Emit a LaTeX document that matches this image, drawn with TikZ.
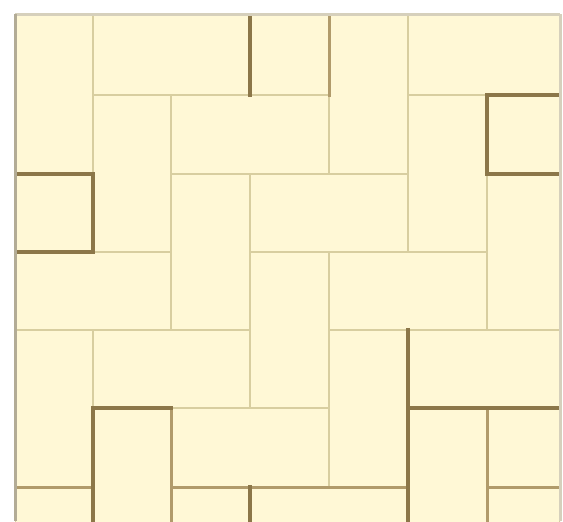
\documentclass[tikz,border=0pt]{standalone}
\definecolor{tilefill}{HTML}{FFF8D6}
\definecolor{lightline}{HTML}{D8CEA0}
\definecolor{darkline}{HTML}{8C7749}
\definecolor{midline}{HTML}{B19B6B}
\definecolor{frameleft}{HTML}{B3AC96}
\definecolor{frametop}{HTML}{D6D0BC}
\begin{document}
\begin{tikzpicture}[x=0.02cm,y=-0.02cm,
  tile/.style={fill=tilefill,draw=lightline,line width=0.055cm},
  darkedge/.style={draw=darkline,line width=0.07cm,line cap=rect},
  midedge/.style={draw=midline,line width=0.06cm,line cap=rect},
  frameedge/.style={line width=0.06cm}]
\fill[white] (0,0) rectangle (563,521);
\useasboundingbox (0,0) rectangle (563,521);
\begin{scope}
\clip (15,14) rectangle (560,521);
\foreach \xa/\ya/\xb/\yb in {
  15/14/93/174, 93/14/250/95, 250/14/329/95, 329/14/408/174, 408/14/560/95,
  93/95/171/252, 171/95/329/174, 408/95/487/252, 487/95/560/174,
  15/174/93/252, 171/174/250/330, 250/174/408/252, 487/174/560/330,
  15/252/171/330, 250/252/329/408, 329/252/487/330,
  15/330/93/487, 93/330/250/408, 329/330/408/487, 408/330/560/408,
  93/408/171/566, 171/408/329/487, 408/408/487/566, 487/408/560/487,
  15/487/93/566, 171/487/250/566, 250/487/408/566, 487/487/560/566}
  \draw[tile] (\xa,\ya) rectangle (\xb,\yb);
% medium edges
\draw[midedge] (329,14) -- (329,95);
\draw[midedge] (171,408) -- (171,521);
\draw[midedge] (487,408) -- (487,521);
\draw[midedge] (487,487) -- (560,487);
\draw[midedge] (171,487) -- (408,487);
\draw[midedge] (15,487) -- (93,487);
% dark edges
\draw[darkedge] (250,14) -- (250,95);
\draw[darkedge] (15,174) -- (93,174) -- (93,252) -- (15,252);
\draw[darkedge] (560,95) -- (487,95) -- (487,174) -- (560,174);
\draw[darkedge] (93,521) -- (93,408) -- (171,408);
\draw[darkedge] (408,330) -- (408,521);
\draw[darkedge] (408,408) -- (560,408);
\draw[darkedge] (250,487) -- (250,521);
\end{scope}
% frame
\draw[frameedge,draw=frametop] (15,14) -- (560,14);
\draw[frameedge,draw=frametop] (560,14) -- (560,521);
\draw[frameedge,draw=frameleft] (15,14) -- (15,521);
\end{tikzpicture}
\end{document}
